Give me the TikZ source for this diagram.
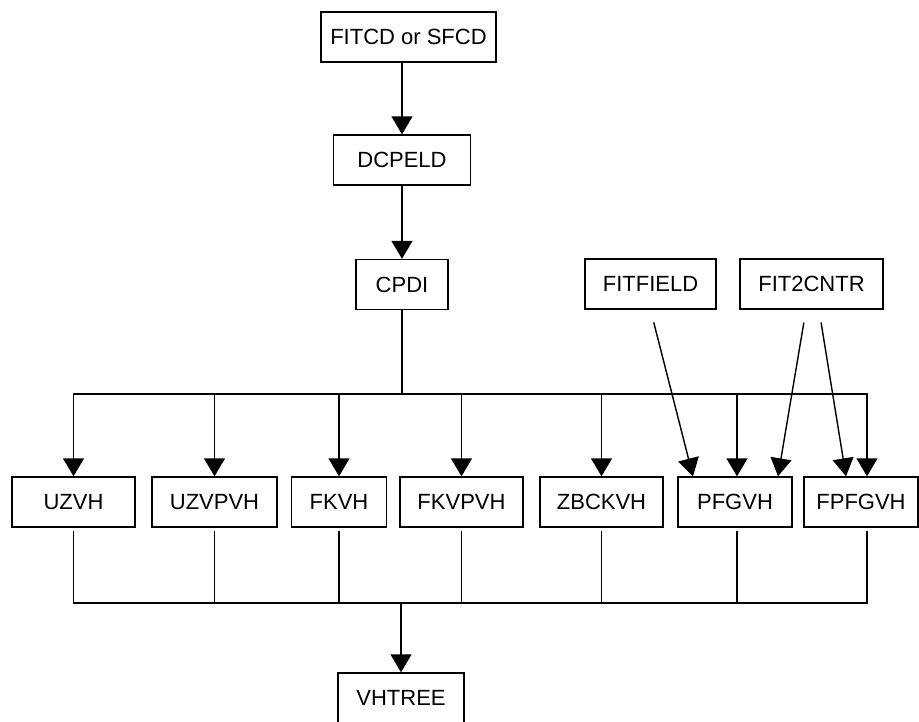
\documentclass[tikz,border=0pt]{standalone}
\usepackage{fontspec}
\setmainfont{Liberation Sans}
\usetikzlibrary{arrows.meta}

\begin{document}
\begin{tikzpicture}[x=1pt, y=-1pt, line width=1.4pt,
    box/.style={draw, minimum height=50pt, inner sep=0pt, font=\fontsize{22}{24}\selectfont},
    arr/.style={-{Triangle[width=21pt,length=18pt]}}]
                \useasboundingbox (0,0) rectangle (919,721);
                \fill[white] (0,0) rectangle (919,721);

                %%top chain
                \node[box, minimum width=175pt] (fitcd) at (408.5, 37) {FITCD or SFCD};
                \node[box, minimum width=137pt] (dcpeld) at (402, 160) {DCPELD};
                \node[box, minimum width=92pt] (cpdi) at (402, 284.5) {CPDI};
                \node[box, minimum width=131pt] (fitfield) at (650.5, 284) {FITFIELD};
                \node[box, minimum width=143pt] (fit2cntr) at (811.5, 284) {FIT2CNTR};

                %%middle row
                \node[box, minimum width=123pt] (uzvh) at (73.5, 502) {UZVH};
                \node[box, minimum width=125pt] (uzvpvh) at (214.5, 502) {UZVPVH};
                \node[box, minimum width=95pt] (fkvh) at (339, 502) {FKVH};
                \node[box, minimum width=123pt] (fkvpvh) at (461.5, 502) {FKVPVH};
                \node[box, minimum width=123pt] (zbckvh) at (601.5, 502) {ZBCKVH};
                \node[box, minimum width=114pt] (pfgvh) at (735, 502) {PFGVH};
                \node[box, minimum width=114pt] (fpfgvh) at (861, 502) {FPFGVH};

                %%bottom
                \node[box, minimum width=126pt] (vhtree) at (401, 698) {VHTREE};

                \coordinate (split) at (402, 394);
                \coordinate (merge) at (401, 603);

                %%arrows down the chain
                \draw[arr] (fitcd.south -| dcpeld.north) -- (dcpeld.north);
                \draw[arr] (dcpeld) -- (cpdi);
                \draw (cpdi) -- (split);
                \draw[arr] (split) -| (uzvh.north);
                \draw[arr] (split) -| (uzvpvh.north);
                \draw[arr] (split) -| (fkvh.north);
                \draw[arr] (split) -| (fkvpvh.north);
                \draw[arr] (split) -| (zbckvh.north);
                \draw[arr] (split) -| ([xshift=2pt]pfgvh.north);
                \draw[arr] (split) -| ([xshift=6pt]fpfgvh.north);

                %%side inputs
                \draw[arr, shorten <=13pt] (fitfield.south) -- ([xshift=-42pt]pfgvh.north);
                \draw[arr, shorten <=13pt] ([xshift=-5.5pt]fit2cntr.south) -- ([xshift=43pt]pfgvh.north);
                \draw[arr, shorten <=13pt] ([xshift=7.5pt]fit2cntr.south) -- ([xshift=-15pt]fpfgvh.north);

                %%merge
                \draw[shorten <=3pt] (uzvh.south) |- (merge);
                \draw[shorten <=3pt] ([xshift=6pt]fpfgvh.south) |- (merge);
                \draw[shorten <=3pt] (uzvpvh.south) -- (uzvpvh.south |- merge);
                \draw[shorten <=3pt] (fkvh.south) -- (fkvh.south |- merge);
                \draw[shorten <=3pt] (fkvpvh.south) -- (fkvpvh.south |- merge);
                \draw[shorten <=3pt] (zbckvh.south) -- (zbckvh.south |- merge);
                \draw[shorten <=3pt] ([xshift=2pt]pfgvh.south) -- ([xshift=2pt]pfgvh.south |- merge);
                \draw[arr] (merge) -- (vhtree);
\end{tikzpicture}
\end{document}
